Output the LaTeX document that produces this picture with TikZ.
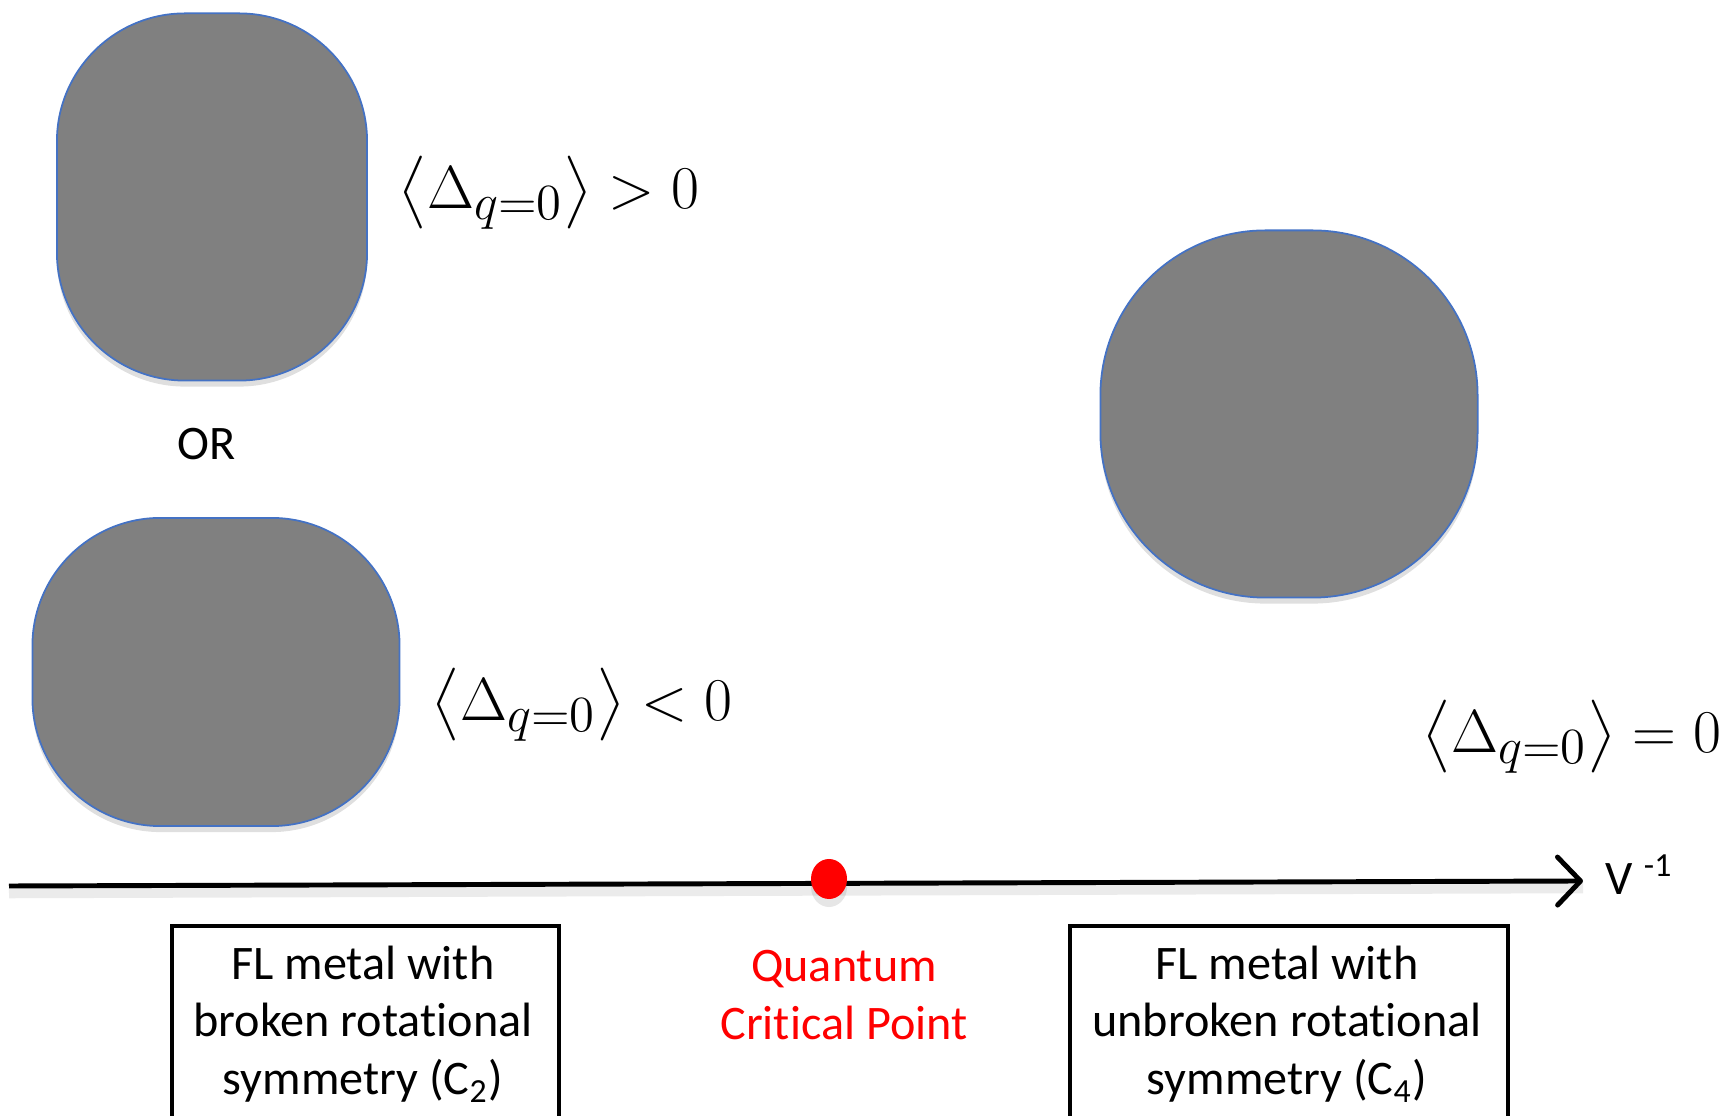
\documentclass[tikz,border=0pt]{standalone}
\usepackage[no-math]{fontspec}
\usepackage{amsmath}
\usetikzlibrary{arrows.meta,positioning,shapes.geometric,shadows}
\newfontfamily\calibrifont[Ligatures=NoCommon]{Carlito}
\definecolor{FS}{HTML}{808080}
\definecolor{FE}{HTML}{4472C4}
\definecolor{QC}{HTML}{FF0000}

\tikzset{
  fermi/.style={draw=FE, line width=0.5pt, fill=FS, inner sep=0pt,
    drop shadow={shadow xshift=0pt, shadow yshift=-0.6mm, opacity=0.25}},
  phasebox/.style={draw=black, line width=1.1pt, inner sep=0pt},
  txt/.style={font=\calibrifont\fontsize{13.7}{16.4}\selectfont, align=center},
  orderpar/.style={font=\fontsize{19}{23}\selectfont, anchor=west, inner sep=0pt},
}

\begin{document}
\begin{tikzpicture}[x=0.01cm, y=0.01cm]
  \useasboundingbox (0,0) rectangle (1725,1116);
  \clip (0,0) rectangle (1725,1116);
  % Fermi surfaces
  \node[fermi, minimum width=3.10cm, minimum height=3.67cm,
    rounded corners=1.28cm] (fsUp) at (212,919) {};
  \node[fermi, minimum width=3.67cm, minimum height=3.08cm,
    rounded corners=1.28cm] (fsDown) at (216,444) {};
  \node[fermi, minimum width=3.77cm, minimum height=3.67cm,
    rounded corners=1.65cm] (fsIso) at (1289,702) {};
  \node[txt] (orlbl) at (207,672) {OR};
  % order parameter
  \node[orderpar] (gtlbl) at (398,923)
    {$\left\langle \Delta_{q=0} \right\rangle > 0$};
  \node[orderpar] (ltlbl) at (431,411)
    {$\left\langle \Delta_{q=0} \right\rangle < 0$};
  \node[orderpar, anchor=east] (eqlbl) at (1722,379)
    {$\left\langle \Delta_{q=0} \right\rangle = 0$};
  % axis
  \coordinate (axL) at (9,230);
  \coordinate (axR) at (1583,235);
  \draw[black!8, line width=3pt] ([yshift=-0.7mm]axL) -- ([yshift=-0.7mm]axR);
  \draw[line width=1.4pt, -{Straight Barb[length=2.3mm,width=4.8mm,round]}]
    (axL) -- (axR);
  \node[txt, anchor=base west, inner sep=0pt] (vinv) at (1605,221)
    {V \textsuperscript{-1}};
  \node[ellipse, fill=QC, minimum width=0.36cm, minimum height=0.40cm,
    inner sep=0pt, drop shadow={shadow xshift=0pt, shadow yshift=-0.8mm,
    opacity=0.2}] (qcp) at (829,237) {};
  % phases
  \node[phasebox, minimum width=3.87cm, minimum height=2.4cm,
    anchor=north west] (brkbox) at (170,192) {};
  \node[phasebox, minimum width=4.38cm, minimum height=2.4cm,
    anchor=north west] (unbbox) at (1068,192) {};
  \node[txt] (brktxt) at (363,92)
    {FL metal with\\broken rotational\\symmetry (C\textsubscript{2})};
  \node[txt] (unbtxt) at (1287,92)
    {FL metal with\\unbroken rotational\\symmetry (C\textsubscript{4})};
  \node[txt, text=QC] (qcptxt) at (844,121) {Quantum\\Critical Point};
\end{tikzpicture}
\end{document}
